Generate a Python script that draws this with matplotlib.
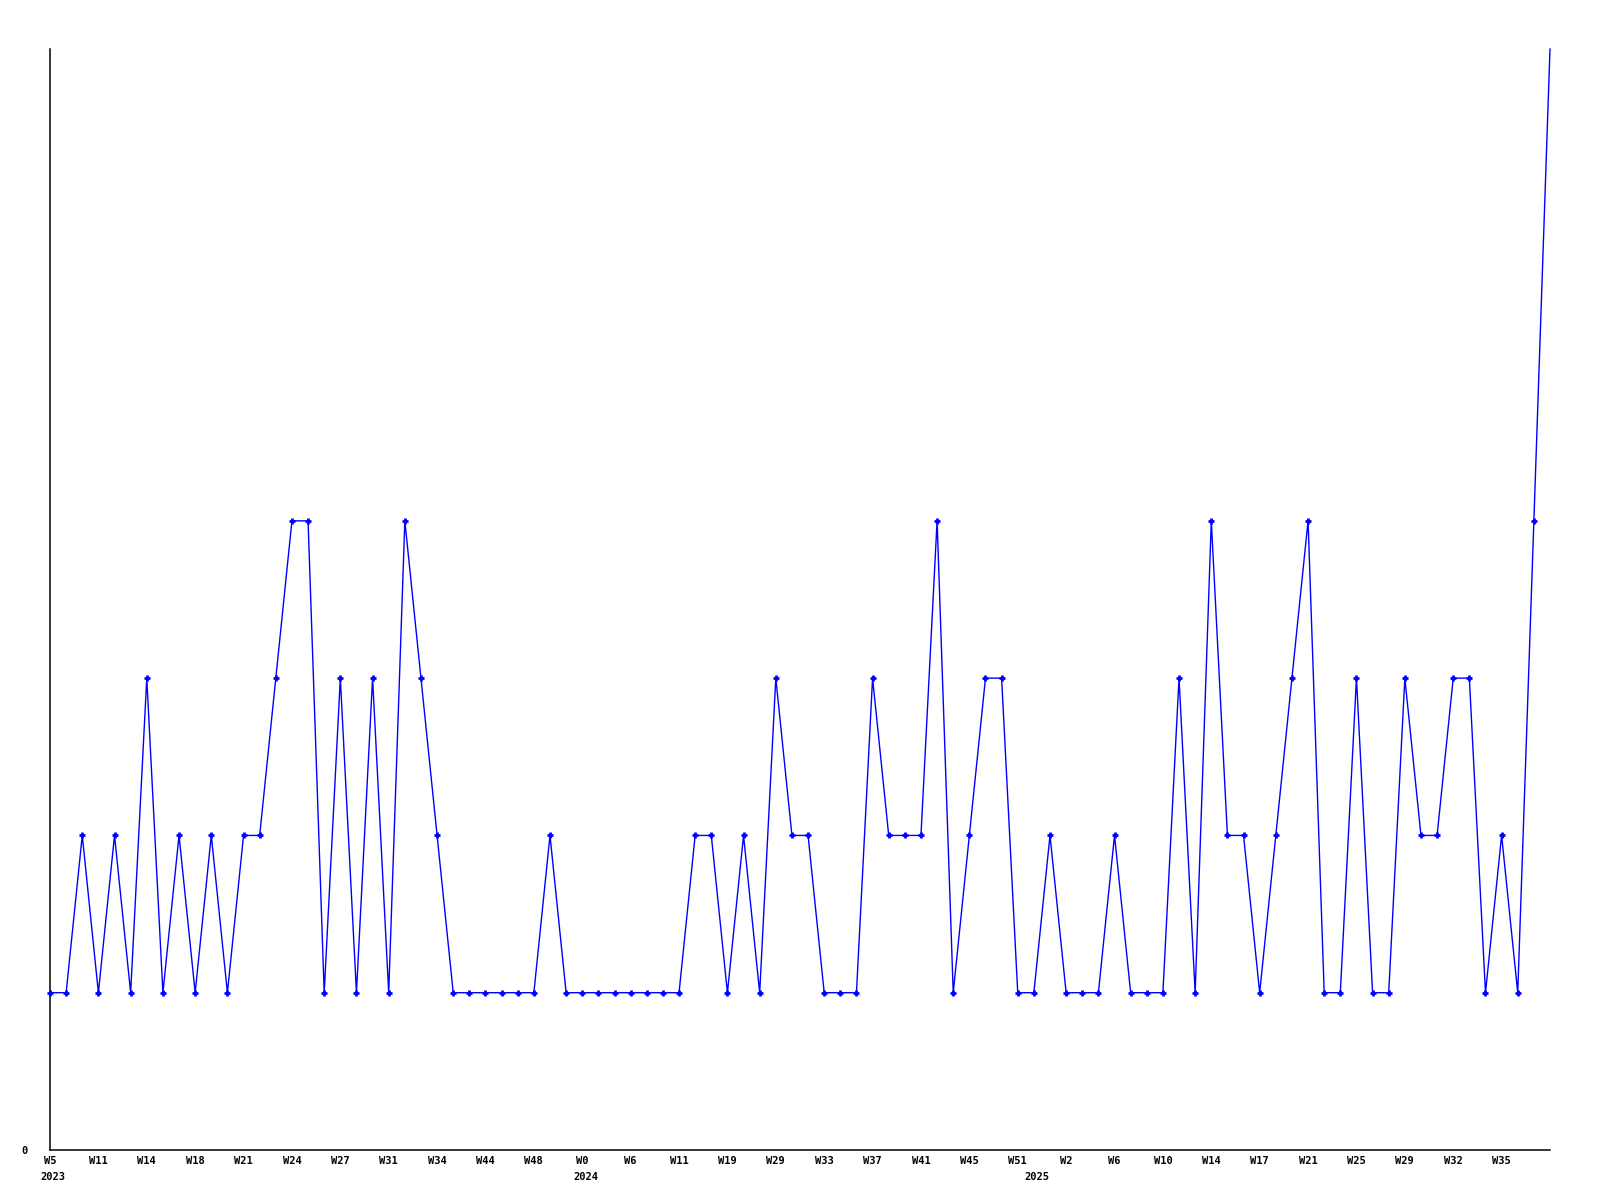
import matplotlib
matplotlib.use("Agg")
import matplotlib.pyplot as plt
import matplotlib.transforms as mtransforms

# ---- data ----
values = [1, 1, 2, 1, 2, 1, 3, 1, 2, 1,
          2, 1, 2, 2, 3, 4, 4, 1, 3, 1,
          3, 1, 4, 3, 2, 1, 1, 1, 1, 1,
          1, 2, 1, 1, 1, 1, 1, 1, 1, 1,
          2, 2, 1, 2, 1, 3, 2, 2, 1, 1,
          1, 3, 2, 2, 2, 4, 1, 2, 3, 3,
          1, 1, 2, 1, 1, 1, 2, 1, 1, 1,
          3, 1, 4, 2, 2, 1, 2, 3, 4, 1,
          1, 3, 1, 1, 3, 2, 2, 3, 3, 1,
          2, 1, 4, 7]
tick_labels = ["W5", "W11", "W14", "W18", "W21", "W24", "W27", "W31", "W34", "W44",
               "W48", "W0", "W6", "W11", "W19", "W29", "W33", "W37", "W41", "W45",
               "W51", "W2", "W6", "W10", "W14", "W17", "W21", "W25", "W29", "W32",
               "W35"]
tick_step = 3
year_labels = ["2023", "2024", "2025"]
year_start_index = [0, 33, 61]

# ---- figure ----
fig = plt.figure(figsize=(16, 12), dpi=100)
ax = fig.add_axes([50 / 1600, 50 / 1200, 1500 / 1600, 1101 / 1200])

x = list(range(len(values)))
ax.plot(x, values, color=(0, 0, 1), lw=1.0, marker="+", markersize=4.5,
        markeredgewidth=2.0, markevery=list(range(len(values) - 1)),
        clip_on=False, zorder=3)

ax.set_xlim(0, len(values) - 1)
ax.set_ylim(0, max(values))

for s in ["top", "right"]:
    ax.spines[s].set_visible(False)
for s in ["left", "bottom"]:
    ax.spines[s].set_color("black")
    ax.spines[s].set_linewidth(1.1)

font = dict(family="DejaVu Sans Mono", weight="bold", size=7.5)

ax.set_yticks([0])
ax.set_yticklabels(["0"], **font)
ax.tick_params(axis="y", length=0, pad=16)

ticks = list(range(0, len(values), tick_step))[:len(tick_labels)]
ax.set_xticks(ticks)
ax.set_xticklabels(tick_labels, **font)
ax.tick_params(axis="x", length=0, pad=4)

trans = mtransforms.blended_transform_factory(ax.transData, fig.transFigure)
for lab, idx in zip(year_labels, year_start_index):
    ax.text(idx + 0.2, 1 - 1177 / 1200, lab, transform=trans, ha="center",
            va="center", **font)

fig.savefig("out.png", dpi=100, facecolor="white")
